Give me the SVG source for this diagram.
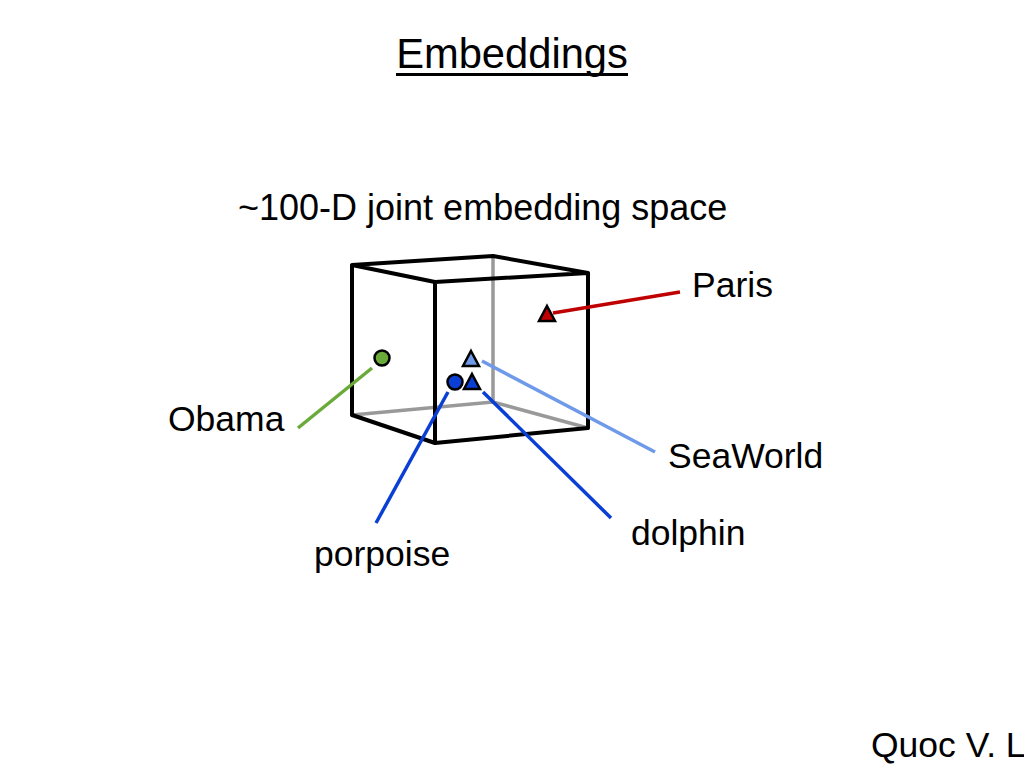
<svg xmlns="http://www.w3.org/2000/svg" width="1024" height="768" viewBox="0 0 1024 768">
<style>
text{font-family:"Liberation Sans",Arial,sans-serif;fill:#000}
.lbl{font-size:35.5px}
.edge{stroke:#000;stroke-width:4;fill:none;stroke-linejoin:round;stroke-linecap:round}
.hid{stroke:#999;stroke-width:3.5;fill:none;stroke-linecap:round}
.pt{stroke:#000;stroke-width:2.5}
.con{stroke-width:3.5;fill:none}
</style>
<rect width="1024" height="768" fill="#fff"/>
<g id="title">
<text x="512" y="68" font-size="41.7" text-anchor="middle">Embeddings</text>
<line x1="396" y1="74.5" x2="628" y2="74.5" stroke="#000" stroke-width="3"/>
</g>
<text id="subtitle" x="238" y="220" font-size="36">~100-D joint embedding space</text>
<g id="cube">
<path class="hid" d="M493,256 L493,402 M352,415 L493,402 L588,428"/>
<path class="edge" d="M352,265 L493,256 L588,273 L435,282 Z M352,265 L352,415 L435,443 M435,282 L435,443 L588,428 L588,273"/>
</g>
<g id="connectors">
<line class="con" x1="553" y1="313" x2="680" y2="292" stroke="#c00000"/>
<line class="con" x1="298" y1="428" x2="372" y2="368" stroke="#6aaa3a"/>
<line class="con" x1="482" y1="361" x2="655" y2="452" stroke="#6f9aea"/>
<line class="con" x1="448" y1="392" x2="376" y2="523" stroke="#0a3fd6"/>
<line class="con" x1="483" y1="392" x2="611" y2="518" stroke="#0a3fd6"/>
</g>
<g id="obama">
<circle class="pt" cx="382" cy="358" r="7.5" fill="#6aaa3a"/>
<text class="lbl" x="168" y="431">Obama</text>
</g>
<g id="paris">
<polygon class="pt" points="547,306 555,321 539,321" fill="#c00000"/>
<text class="lbl" x="692" y="297">Paris</text>
</g>
<g id="seaworld">
<polygon class="pt" points="471,351 479,366 463,366" fill="#6f9aea"/>
<text class="lbl" x="668" y="468">SeaWorld</text>
</g>
<g id="porpoise">
<circle class="pt" cx="455" cy="382" r="7.5" fill="#0a3fd6"/>
<text class="lbl" x="314" y="566">porpoise</text>
</g>
<g id="dolphin">
<polygon class="pt" points="472,374 480,389 464,389" fill="#0a3fd6"/>
<text class="lbl" x="631" y="545">dolphin</text>
</g>
<text id="credit" class="lbl" x="871" y="757">Quoc V. L</text>
</svg>
